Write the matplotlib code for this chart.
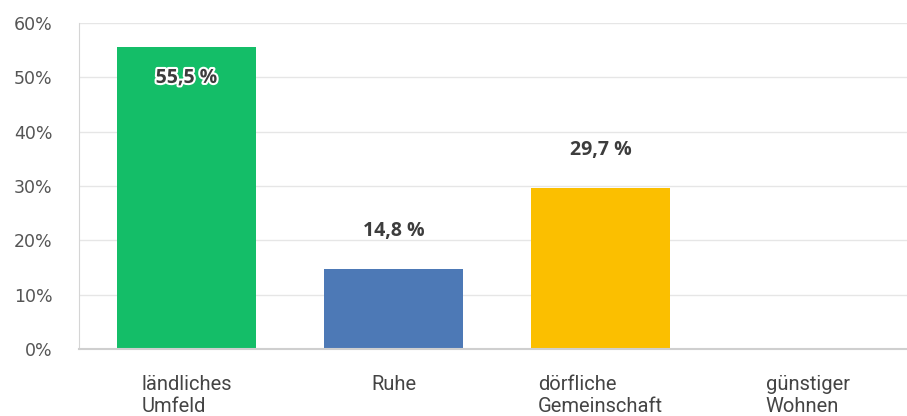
import matplotlib.pyplot as plt
import matplotlib.patheffects as pe
from matplotlib.ticker import FuncFormatter

categories = ["ländliches\nUmfeld", "Ruhe", "dörfliche\nGemeinschaft", "günstiger\nWohnen"]
values = [55.5, 14.8, 29.7, 0.0]
value_labels = ["55,5 %", "14,8 %", "29,7 %", ""]
colors = ["#14be68", "#4d79b6", "#fbbf00", "#cccccc"]
yticks = [0, 10, 20, 30, 40, 50, 60]

plt.rcParams['font.family'] = ['Open Sans', 'DejaVu Sans']

fig = plt.figure(figsize=(9.07, 4.16), dpi=100)
ax = fig.add_axes([0.087, 0.161, 0.913, 0.784])

x = range(len(categories))
bars = ax.bar(x, values, width=0.67, color=colors, zorder=2)

for i, (bar, lab) in enumerate(zip(bars, value_labels)):
    if not lab:
        continue
    h = bar.get_height()
    cx = bar.get_x() + bar.get_width() / 2
    if i == 0:
        # first bar is tall enough to carry its label inside
        ax.annotate(lab, (cx, h), xytext=(0, -22), textcoords='offset points',
                    ha='center', va='center', fontsize=14, fontweight='bold', color='#3d3d3d',
                    path_effects=[pe.withStroke(linewidth=3, foreground='white')], zorder=3)
    else:
        ax.annotate(lab, (cx, h), xytext=(0, 27), textcoords='offset points',
                    ha='center', va='center', fontsize=14, fontweight='bold', color='#3d3d3d', zorder=3)

ax.set_xlim(-0.52, 3.48)
ax.set_ylim(0, 60)
ax.set_yticks(yticks)
ax.yaxis.set_major_formatter(FuncFormatter(lambda v, _: f"{v:.0f}%"))
ax.set_xticks(list(x))
ax.set_xticklabels(categories, multialignment='left', family=['Roboto', 'DejaVu Sans'],
                   linespacing=1.15)
for t in ax.get_yticklabels():
    t.set_family(['DejaVu Sans'])

ax.grid(axis='y', color='#e6e6e6', linewidth=1, zorder=0)
ax.tick_params(axis='y', length=0, pad=19, labelsize=12.5, labelcolor='#555555')
ax.tick_params(axis='x', length=0, pad=19, labelsize=14.5, labelcolor='#444444')

for side in ['top', 'right']:
    ax.spines[side].set_visible(False)
ax.spines['left'].set_color('#d5d5d5')
ax.spines['bottom'].set_color('#cfcfcf')
ax.spines['bottom'].set_linewidth(1.5)

fig.savefig("out.png", dpi=100)
